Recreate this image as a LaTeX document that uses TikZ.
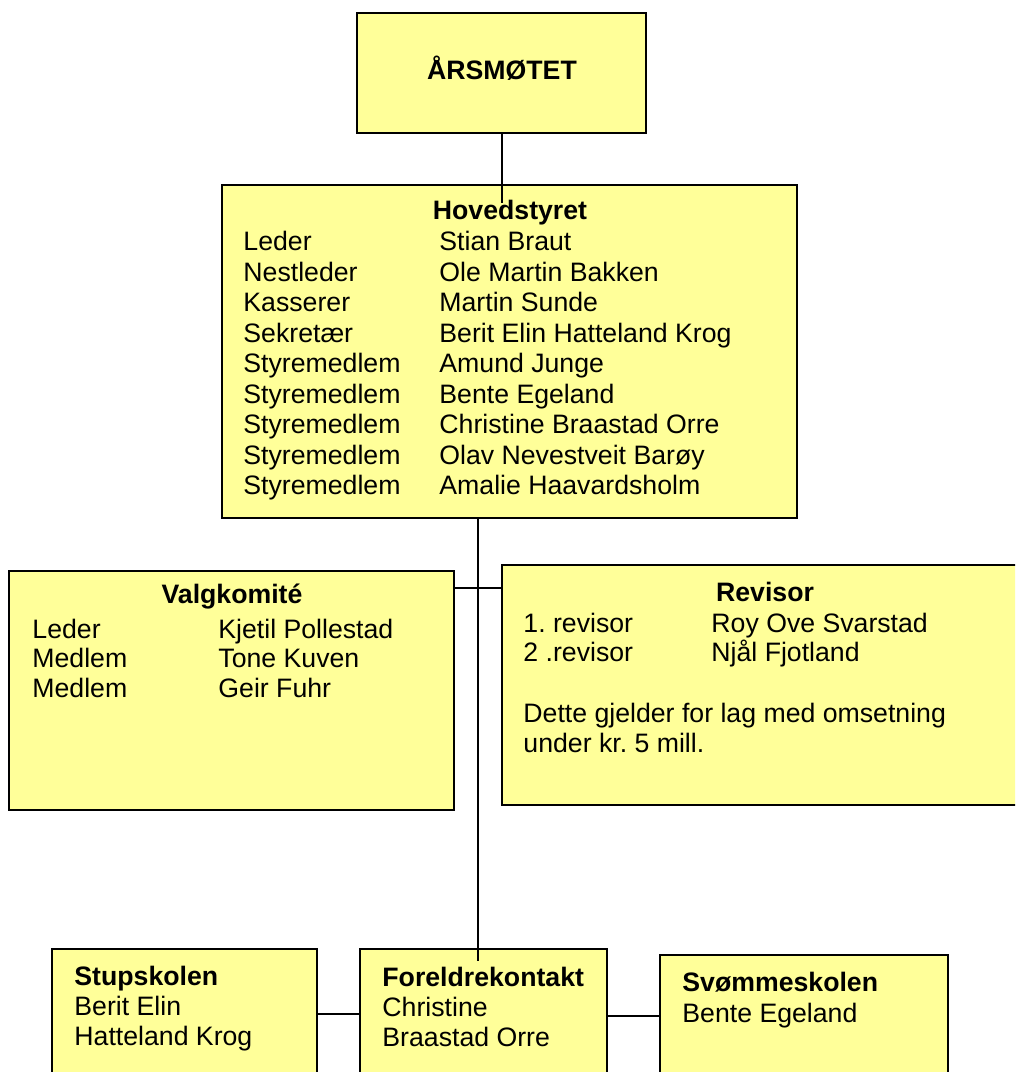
\documentclass[tikz,border=0pt]{standalone}
\usepackage{fontspec}
\setmainfont{Liberation Sans}
\usepackage{tikz}
\usetikzlibrary{calc,fit,positioning}
\definecolor{boxyellow}{HTML}{FFFF99}
\newcommand{\boxfont}{\fontsize{12}{14}\selectfont}
\frenchspacing

\begin{document}
\begin{tikzpicture}[x=0.45pt,y=-0.45pt,font=\boxfont]

\tikzset{boxnode/.style={draw=black,fill=boxyellow,line width=0.9pt,inner sep=0pt,shape=rectangle},
textnode/.style={anchor=base west,inner sep=0pt},
headnode/.style={anchor=base,inner sep=0pt,font=\boxfont\bfseries},
leftheadnode/.style={anchor=base west,inner sep=0pt,font=\boxfont\bfseries},
linkline/.style={line width=0.85pt}}

\clip (0,0) rectangle (1015,1072);

% Boxes
\node[boxnode,fit={(357,13) (646,133)}] (aarsm) {};
\node[boxnode,fit={(222,185) (797,518)}] (hoved) {};
\node[boxnode,fit={(9,571) (454,810)}] (valg) {};
\node[boxnode,fit={(502,565) (1035,805)}] (rev) {};
\node[boxnode,fit={(52,949) (317,1095)}] (stup) {};
\node[boxnode,fit={(360,949) (607,1095)}] (fk) {};
\node[boxnode,fit={(660,955) (948,1095)}] (svom) {};

% Connectors
\coordinate (hovedIn) at (502,203);
\coordinate (spineEnd) at (478,961);
\coordinate (cross) at (478,588);
\coordinate (lowLeft) at (478,1014);
\coordinate (lowRight) at (478,1016);
\draw[linkline] (aarsm.south -| hovedIn) -- (hovedIn);
\draw[linkline] (spineEnd |- hoved.south) -- (spineEnd);
\draw[linkline] (cross -| valg.east) -- (cross -| rev.west);
\draw[linkline] (lowLeft -| stup.east) -- (lowLeft -| fk.west);
\draw[linkline] (lowRight -| fk.east) -- (lowRight -| svom.west);

% Top
\node[headnode] (aarsmLabel) at (502,80) {ÅRSMØTET};

% Hovedstyret
\node[headnode] (hovedLabel) at (510,220) {Hovedstyret};
\foreach \role/\name [count=\i from 0] in {Leder/Stian Braut,Nestleder/Ole Martin Bakken,Kasserer/Martin Sunde,Sekretær/Berit Elin Hatteland Krog,Styremedlem/Amund Junge,Styremedlem/Bente Egeland,Styremedlem/Christine Braastad Orre,Styremedlem/Olav Nevestveit Barøy,Styremedlem/Amalie Haavardsholm}
{\node[textnode] (hr\i) at (243,251+30.5*\i) {\role};
 \node[textnode] (hn\i) at (439,251+30.5*\i) {\name};}

% Valgkomite
\node[headnode] (valgLabel) at (232,603) {Valgkomité};
\foreach \role/\name [count=\i from 0] in {Leder/Kjetil Pollestad,Medlem/Tone Kuven,Medlem/Geir Fuhr}
{\node[textnode] (vr\i) at (32,638+29.5*\i) {\role};
 \node[textnode] (vn\i) at (218,638+29.5*\i) {\name};}

% Revisor
\node[headnode] (revLabel) at (765,601) {Revisor};
\foreach \role/\name [count=\i from 0] in {1. revisor/Roy Ove Svarstad,2 .revisor/Njål Fjotland}
{\node[textnode] (rr\i) at (523,632+29.5*\i) {\role};
 \node[textnode] (rn\i) at (711,632+29.5*\i) {\name};}
\node[textnode] (revNote1) at (523,722) {Dette gjelder for lag med omsetning};
\node[textnode] (revNote2) at (523,752) {under kr. 5 mill.};

% Lower boxes
\node[leftheadnode] (stupLabel) at (74,985) {Stupskolen};
\node[textnode] (stup1) at (74,1015) {Berit Elin};
\node[textnode] (stup2) at (74,1045) {Hatteland Krog};
\node[leftheadnode] (fkLabel) at (382,986) {Foreldrekontakt};
\node[textnode] (fk1) at (382,1016) {Christine};
\node[textnode] (fk2) at (382,1046) {Braastad Orre};
\node[leftheadnode] (svomLabel) at (682,991) {Svømmeskolen};
\node[textnode] (svom1) at (682,1022) {Bente Egeland};

\end{tikzpicture}
\end{document}
